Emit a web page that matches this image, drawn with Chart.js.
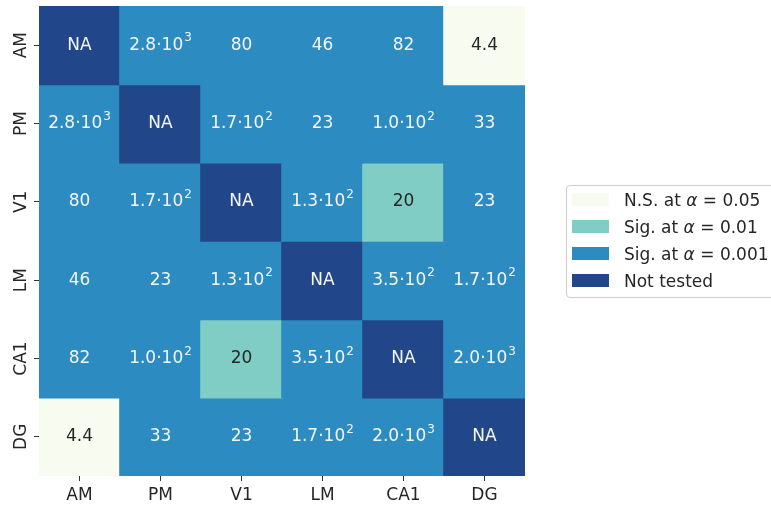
<!DOCTYPE html>
<html>
<head>
<meta charset="utf-8">
<script src="https://cdn.jsdelivr.net/npm/chart.js@4/dist/chart.umd.min.js"></script>
<style>
  html, body { margin: 0; padding: 0; background: #ffffff; }
  #wrap { position: relative; width: 771px; height: 506px; overflow: hidden; }
  #heat { position: absolute; left: 0; top: 0; }
  #legend {
    position: absolute; left: 566px; top: 185px; width: 230px; height: 111px;
    border: 1px solid #cccccc; border-radius: 4px; background: #ffffff;
    font-family: "DejaVu Sans", sans-serif; font-size: 17px; color: #262626;
  }
  .item { position: absolute; left: 5px; height: 27px; display: flex; align-items: center; }
  .sw { width: 37px; height: 13px; margin-right: 15px; }
  .item i { font-style: italic; }
</style>
</head>
<body>
<div id="wrap">
  <canvas id="heat" width="771" height="506"></canvas>
  <div id="legend"></div>
</div>
<script>
// Brain regions compared pairwise
const regions = ['AM', 'PM', 'V1', 'LM', 'CA1', 'DG'];

// Test statistic for each pair (null on the diagonal: not tested)
const rowAM  = [null, 2800, 80, 46, 82, 4.4];
const rowPM  = [2800, null, 170, 23, 100, 33];
const rowV1  = [80, 170, null, 130, 20, 23];
const rowLM  = [46, 23, 130, null, 350, 170];
const rowCA1 = [82, 100, 20, 350, null, 2000];
const rowDG  = [4.4, 33, 23, 170, 2000, null];
const statValues = [rowAM, rowPM, rowV1, rowLM, rowCA1, rowDG];

// Significance class per pair: 0 = n.s., 1 = p<0.01, 2 = p<0.001, 3 = not tested
const levelAM  = [3, 2, 2, 2, 2, 0];
const levelPM  = [2, 3, 2, 2, 2, 2];
const levelV1  = [2, 2, 3, 2, 1, 2];
const levelLM  = [2, 2, 2, 3, 2, 2];
const levelCA1 = [2, 2, 1, 2, 3, 2];
const levelDG  = [0, 2, 2, 2, 2, 3];
const sigLevels = [levelAM, levelPM, levelV1, levelLM, levelCA1, levelDG];

const levelNames = [
  'N.S. at <i>α</i> = 0.05',
  'Sig. at <i>α</i> = 0.01',
  'Sig. at <i>α</i> = 0.001',
  'Not tested'
];
const levelColors = ['#f7fbf0', '#7fcdc4', '#2c8bc0', '#21478a'];
const lightLevels = [0, 1];

const FONT = '"DejaVu Sans", sans-serif';

// Split a value into mantissa text and optional power of ten
function formatValue(v) {
  if (v === null) return { base: 'NA', exp: null };
  if (v >= 100) {
    const e = Math.floor(Math.log10(v));
    const m = v / Math.pow(10, e);
    return { base: m.toFixed(1) + '·10', exp: String(e) };
  }
  return { base: Number.isInteger(v) ? String(v) : v.toFixed(1), exp: null };
}

// One floating-bar dataset per row, each bar spanning one row band
const datasets = statValues.map((row, r) => ({
  label: regions[r],
  data: row.map(() => [r, r + 1]),
  backgroundColor: sigLevels[r].map(l => levelColors[l]),
  borderWidth: 0,
  inflateAmount: 0.8,
  borderSkipped: false,
  barPercentage: 1,
  categoryPercentage: 1,
  grouped: false
}));

// Annotate each cell with its statistic
const cellText = {
  id: 'cellText',
  afterDatasetsDraw(chart) {
    const { ctx, scales: { x, y } } = chart;
    ctx.save();
    ctx.textBaseline = 'middle';
    ctx.textAlign = 'left';
    statValues.forEach((row, r) => {
      row.forEach((v, c) => {
        const cx = x.getPixelForValue(c);
        const cy = y.getPixelForValue(r + 0.5);
        const t = formatValue(v);
        ctx.fillStyle = lightLevels.includes(sigLevels[r][c]) ? '#262626' : '#f4f6f8';
        ctx.font = '17px ' + FONT;
        const wb = ctx.measureText(t.base).width;
        let we = 0;
        if (t.exp) {
          ctx.font = '12px ' + FONT;
          we = ctx.measureText(t.exp).width + 1;
        }
        const x0 = cx - (wb + we) / 2;
        ctx.font = '17px ' + FONT;
        ctx.fillText(t.base, x0, cy);
        if (t.exp) {
          ctx.font = '12px ' + FONT;
          ctx.fillText(t.exp, x0 + wb + 1, cy - 7);
        }
      });
    });
    ctx.restore();
  }
};

const tickFont = { family: FONT, size: 17 };

new Chart(document.getElementById('heat'), {
  type: 'bar',
  data: { labels: regions, datasets },
  plugins: [cellText],
  options: {
    responsive: false,
    devicePixelRatio: 1,
    animation: false,
    events: [],
    layout: { padding: { top: 6, right: 246, left: 0, bottom: 0 } },
    plugins: { legend: { display: false }, tooltip: { enabled: false } },
    scales: {
      x: {
        type: 'category',
        offset: true,
        border: { display: false },
        grid: { display: true, offset: false, drawOnChartArea: false, drawTicks: true, tickLength: 5, color: '#333333', tickWidth: 1 },
        ticks: { font: tickFont, color: '#262626', padding: 4, maxRotation: 0, minRotation: 0 },
        afterFit(scale) { scale.height = 30; }
      },
      y: {
        type: 'linear',
        min: 0,
        max: 6,
        reverse: true,
        border: { display: false },
        grid: { display: true, drawOnChartArea: false, drawTicks: true, tickLength: 5, color: '#333333', tickWidth: 1 },
        afterBuildTicks(scale) {
          scale.ticks = regions.map((_, i) => ({ value: i + 0.5 }));
        },
        ticks: {
          font: tickFont,
          color: '#262626',
          minRotation: 90,
          maxRotation: 90,
          crossAlign: 'center',
          padding: -5,
          callback(value) { return regions[Math.floor(value)]; }
        },
        afterFit(scale) { scale.width = 39; }
      }
    }
  }
});

// Legend for the significance classes
const legend = document.getElementById('legend');
levelNames.forEach((name, i) => {
  const item = document.createElement('div');
  item.className = 'item';
  item.style.top = (0 + i * 27) + 'px';
  item.innerHTML = '<span class="sw" style="background:' + levelColors[i] + '"></span><span>' + name + '</span>';
  legend.appendChild(item);
});
</script>
</body>
</html>
